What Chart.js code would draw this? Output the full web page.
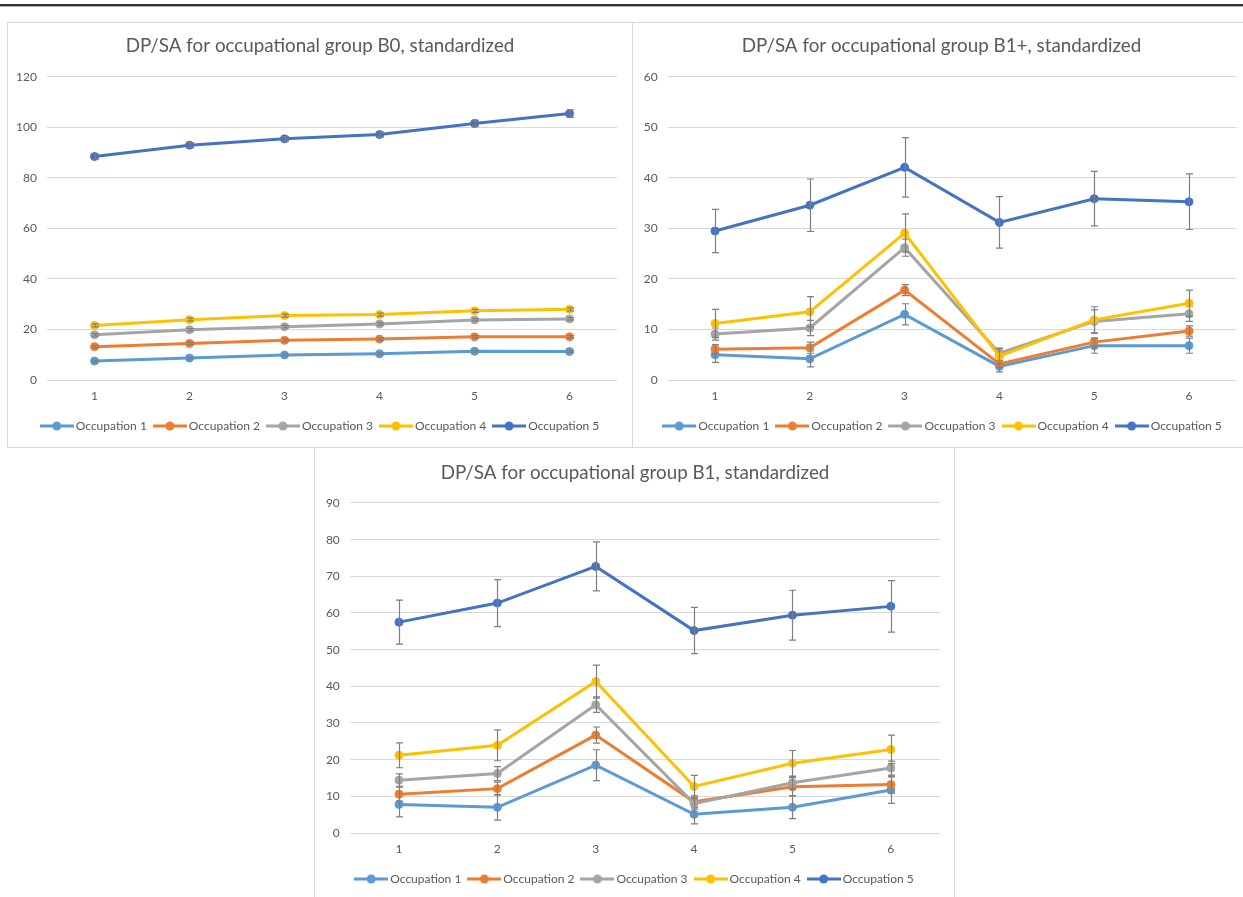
<!DOCTYPE html>
<html>
<head>
<meta charset="utf-8">
<script src="https://cdn.jsdelivr.net/npm/chart.js@4/dist/chart.umd.min.js"></script>
<style>
  html, body { margin:0; padding:0; background:#fff; }
  body { width:1243px; height:897px; position:relative; overflow:hidden; }
  .rule { position:absolute; left:0; top:4px; width:1243px; height:2px; background:#333; border-bottom:1px solid #aaa; }
  .panel { position:absolute; box-sizing:border-box; border:1px solid #d9d9d9; background:#fff; }
  canvas { position:absolute; }
</style>
</head>
<body>
<div class="rule"></div>
<div class="panel" style="left:7px;top:22px;width:626px;height:426px;"></div>
<div class="panel" style="left:632px;top:22px;width:620px;height:426px;"></div>
<div class="panel" style="left:314px;top:447px;width:641px;height:460px;"></div>
<canvas id="c1" width="625" height="425" style="left:7px;top:22px;"></canvas>
<canvas id="c2" width="611" height="425" style="left:632px;top:22px;"></canvas>
<canvas id="c3" width="640" height="450" style="left:314px;top:447px;"></canvas>
<script>
// ---- data ----
const categories = ['1', '2', '3', '4', '5', '6'];
const seriesNames = ['Occupation 1', 'Occupation 2', 'Occupation 3', 'Occupation 4', 'Occupation 5'];

// B0
const b0Occ1 = [7.5, 8.7, 9.9, 10.4, 11.4, 11.3];
const b0Occ2 = [13.2, 14.5, 15.7, 16.2, 17.1, 17.1];
const b0Occ3 = [17.9, 19.9, 21.1, 22.2, 23.8, 24.2];
const b0Occ4 = [21.6, 23.9, 25.5, 25.9, 27.4, 28.0];
const b0Occ5 = [88.5, 93.0, 95.5, 97.2, 101.6, 105.5];
const b0Err1 = [0.4, 0.4, 0.4, 0.4, 0.4, 0.4];
const b0Err2 = [0.5, 0.5, 0.5, 0.5, 0.5, 0.5];
const b0Err3 = [0.5, 0.5, 0.5, 0.5, 0.5, 0.5];
const b0Err4 = [0.6, 0.6, 0.6, 0.6, 0.6, 0.6];
const b0Err5 = [1.0, 1.0, 0.9, 1.0, 1.3, 1.5];

// B1+
const b1pOcc1 = [5.0, 4.2, 13.0, 2.7, 6.8, 6.8];
const b1pOcc2 = [6.1, 6.4, 17.8, 3.2, 7.5, 9.7];
const b1pOcc3 = [9.1, 10.3, 26.2, 5.3, 11.6, 13.1];
const b1pOcc4 = [11.2, 13.5, 29.1, 4.7, 11.9, 15.2];
const b1pOcc5 = [29.5, 34.6, 42.1, 31.2, 35.9, 35.3];
const b1pErr1 = [1.5, 1.6, 2.1, 1.1, 1.5, 1.5];
const b1pErr2 = [0.9, 1.1, 1.1, 0.7, 0.8, 1.0];
const b1pErr3 = [1.2, 1.5, 1.7, 1.0, 2.3, 1.5];
const b1pErr4 = [2.8, 3.0, 3.8, 1.5, 2.6, 2.6];
const b1pErr5 = [4.3, 5.2, 5.9, 5.1, 5.4, 5.5];

// B1
const b1Occ1 = [7.8, 7.0, 18.5, 5.1, 7.0, 11.7];
const b1Occ2 = [10.6, 12.1, 26.7, 8.5, 12.6, 13.2];
const b1Occ3 = [14.4, 16.2, 35.0, 8.0, 13.7, 17.7];
const b1Occ4 = [21.2, 23.9, 41.3, 12.7, 19.0, 22.8];
const b1Occ5 = [57.5, 62.7, 72.7, 55.2, 59.4, 61.8];
const b1Err1 = [3.4, 3.5, 4.2, 2.6, 3.1, 3.6];
const b1Err2 = [1.9, 1.8, 2.2, 1.6, 2.5, 2.3];
const b1Err3 = [1.7, 1.9, 2.1, 1.5, 1.7, 1.9];
const b1Err4 = [3.4, 4.2, 4.5, 3.0, 3.5, 3.9];
const b1Err5 = [6.0, 6.4, 6.7, 6.3, 6.8, 7.0];

const colors = ['#5B9BD5', '#ED7D31', '#A5A5A5', '#FFC000', '#4472C4'];
const FONT = "Lato, 'Open Sans', sans-serif";

// legend marker: line with a dot, like the office style
function legendMarker(color) {
  const c = document.createElement('canvas');
  c.width = 34; c.height = 12;
  const x = c.getContext('2d');
  x.strokeStyle = color; x.lineWidth = 3;
  x.beginPath(); x.moveTo(0, 6); x.lineTo(34, 6); x.stroke();
  x.fillStyle = color;
  x.beginPath(); x.arc(17, 6, 4.5, 0, Math.PI * 2); x.fill();
  return c;
}

const errorBars = {
  id: 'errorBars',
  afterDatasetDraw(chart, args) {
    const ds = chart.data.datasets[args.index];
    if (!ds.errors) return;
    const y = chart.scales.y;
    const ctx = chart.ctx;
    ctx.save();
    ctx.strokeStyle = '#7f7f7f';
    ctx.lineWidth = 1.2;
    args.meta.data.forEach((pt, i) => {
      const v = ds.data[i], e = ds.errors[i];
      const px = Math.round(pt.x) + 0.5;
      const yt = y.getPixelForValue(v + e), yb = y.getPixelForValue(v - e);
      ctx.beginPath();
      ctx.moveTo(px, yt); ctx.lineTo(px, yb);
      ctx.moveTo(px - 3.5, yt); ctx.lineTo(px + 3.5, yt);
      ctx.moveTo(px - 3.5, yb); ctx.lineTo(px + 3.5, yb);
      ctx.stroke();
    });
    ctx.restore();
  }
};

// re-center the legend row and title on the panel rather than on the padded layout area
const boxCenter = {
  id: 'boxCenter',
  afterLayout(chart, args, opts) {
    const half = 300;
    const set = (box, c) => {
      if (!box || c == null) return;
      box.left = c - half; box.right = c + half; box.width = half * 2;
    };
    set(chart.legend, opts.legend);
    set(chart.titleBlock, opts.title);
  }
};

function makeChart(id, title, series, errors, yMax, yStep, lay) {
  const datasets = series.map((s, i) => ({
    label: seriesNames[i],
    data: s,
    errors: errors[i],
    borderColor: colors[i],
    backgroundColor: colors[i],
    pointBackgroundColor: colors[i],
    pointBorderColor: colors[i],
    pointStyle: 'circle',
    borderWidth: 3,
    pointRadius: 4,
    pointBorderWidth: 1,
    pointHoverRadius: 4,
    tension: 0,
    order: 5 - i
  }));
  return new Chart(document.getElementById(id), {
    type: 'line',
    data: { labels: categories, datasets },
    options: {
      responsive: false,
      animation: false,
      layout: { padding: { left: 0, right: lay.right, top: 0, bottom: lay.bottom } },
      plugins: {
        boxCenter: { legend: lay.legendCenter, title: lay.titleCenter },
        title: {
          display: true, text: title, color: '#595959',
          font: { family: FONT, size: 18.8, weight: 'normal', lineHeight: 1.2 },
          padding: { top: lay.titleTop, bottom: lay.titleBottom }
        },
        legend: {
          position: 'bottom',
          sort: (a, b) => a.datasetIndex - b.datasetIndex,
          labels: {
            color: '#595959',
            font: { family: FONT, size: 12 },
            usePointStyle: true,
            pointStyleWidth: 26,
            boxHeight: 12,
            padding: 10,
            generateLabels: (chart) => chart.data.datasets.map((d, i) => ({
              text: d.label,
              pointStyle: legendMarker(colors[i]),
              fillStyle: colors[i],
              strokeStyle: colors[i],
              lineWidth: 0,
              hidden: false,
              datasetIndex: i,
              fontColor: '#595959'
            }))
          }
        },
        tooltip: { enabled: false }
      },
      scales: {
        x: {
          offset: true,
          grid: { display: false, drawTicks: false },
          border: { display: false },
          ticks: { color: '#595959', font: { family: FONT, size: 12 }, padding: 9 },
          afterFit: (s) => { s.height = 30; }
        },
        y: {
          min: 0, max: yMax,
          ticks: { stepSize: yStep, color: '#595959', font: { family: FONT, size: 12 }, padding: 10 },
          grid: { color: '#d9d9d9', lineWidth: 1, drawTicks: false },
          border: { display: false },
          afterFit: (s) => { s.width = lay.yWidth; }
        }
      }
    },
    plugins: [errorBars, boxCenter]
  });
}

makeChart('c1', 'DP/SA for occupational group B0, standardized',
  [b0Occ1, b0Occ2, b0Occ3, b0Occ4, b0Occ5],
  [b0Err1, b0Err2, b0Err3, b0Err4, b0Err5], 120, 20,
  { right: 15, bottom: 5, titleTop: 13, titleBottom: 19.4, yWidth: 40, legendCenter: 314.5, titleCenter: 313 });

makeChart('c2', 'DP/SA for occupational group B1+, standardized',
  [b1pOcc1, b1pOcc2, b1pOcc3, b1pOcc4, b1pOcc5],
  [b1pErr1, b1pErr2, b1pErr3, b1pErr4, b1pErr5], 60, 10,
  { right: 6.6, bottom: 5, titleTop: 13, titleBottom: 19.4, yWidth: 35.6, legendCenter: 312, titleCenter: 309.5 });

makeChart('c3', 'DP/SA for occupational group B1, standardized',
  [b1Occ1, b1Occ2, b1Occ3, b1Occ4, b1Occ5],
  [b1Err1, b1Err2, b1Err3, b1Err4, b1Err5], 90, 10,
  { right: 14, bottom: 2, titleTop: 15, titleBottom: 18.4, yWidth: 35.8, legendCenter: 322, titleCenter: 321 });
</script>
</body>
</html>
